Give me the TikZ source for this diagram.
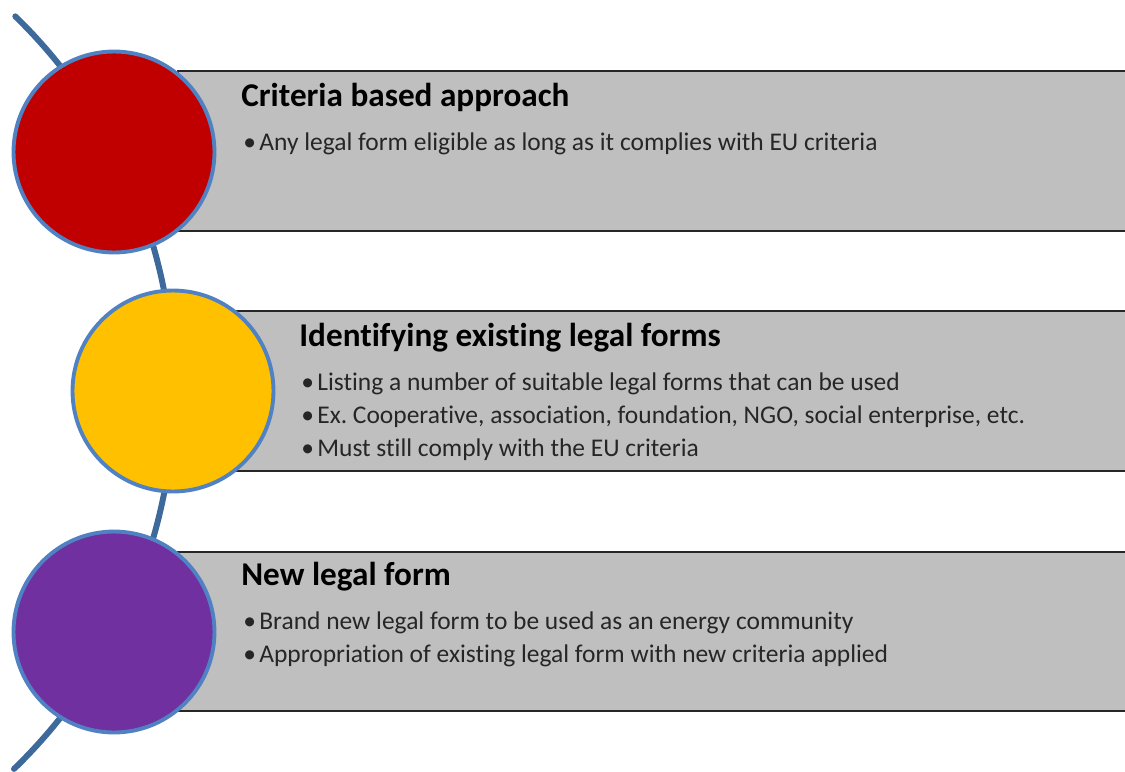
\documentclass[tikz,border=0pt]{standalone}
\usepackage{fontspec}
\setmainfont[Ligatures=NoCommon]{Carlito}
\usepackage{tikz}
\frenchspacing
\definecolor{stagered}{RGB}{192,0,0}
\definecolor{stageyellow}{RGB}{255,192,0}
\definecolor{stagepurple}{RGB}{112,48,160}
\definecolor{ringblue}{RGB}{80,130,195}
\definecolor{spineblue}{RGB}{62,105,155}
\definecolor{bandgray}{RGB}{191,191,191}
\tikzstyle{stage}=[circle, draw=ringblue, line width=2.2pt, inner sep=0pt, minimum size=4.02cm]
\tikzstyle{band}=[draw=black!85, line width=0.9pt, fill=bandgray]
\tikzstyle{heading}=[anchor=base west, inner sep=0pt, font=\fontsize{18.9}{22}\selectfont\bfseries]
\tikzstyle{item}=[anchor=base west, inner sep=0pt, font=\fontsize{14.5}{17}\selectfont, text=black!85]
\newcommand{\stage}{\node[stage]}
\newcommand{\dotmark}{\makebox[16\unitlength][l]{\textbullet}}

\begin{document}
\begin{tikzpicture}[x=0.02cm, y=-0.02cm]
	\setlength{\unitlength}{0.02cm}
	\clip (0,0) rectangle (1125,771);
	\fill[white] (0,0) rectangle (1125,771);
	%% the spine behind the circles
	\draw[spineblue, line width=3.4pt, line cap=round] (-350,392) ++(-45.8:524) arc[start angle=-45.8, end angle=46, radius=524];
	%% the bands
	\draw[band] (178,71) rectangle (1130,231);
	\draw[band] (235,311) rectangle (1130,471);
	\draw[band] (178,552) rectangle (1130,711);
	%% the circles
	\stage (c1) at (114,152) [fill=stagered] {};
	\stage (c2) at (173,391) [fill=stageyellow] {};
	\stage (c3) at (114,632) [fill=stagepurple] {};
	%% first band
	\node[heading] (h1) at (241,106) {Criteria based approach};
	\node[item] (i11) at (243,150) {\dotmark Any legal form eligible as long as it complies with EU criteria};
	%% second band
	\node[heading] (h2) at (299,346) {Identifying existing legal forms};
	\node[item] (i21) at (301,390) {\dotmark Listing a number of suitable legal forms that can be used};
	\node[item] (i22) at (301,423) {\dotmark Ex. Cooperative, association, foundation, NGO, social enterprise, etc.};
	\node[item] (i23) at (301,456) {\dotmark Must still comply with the EU criteria};
	%% third band
	\node[heading] (h3) at (241,585) {New legal form};
	\node[item] (i31) at (243,629) {\dotmark Brand new legal form to be used as an energy community};
	\node[item] (i32) at (243,662) {\dotmark Appropriation of existing legal form with new criteria applied};
\end{tikzpicture}
\end{document}
